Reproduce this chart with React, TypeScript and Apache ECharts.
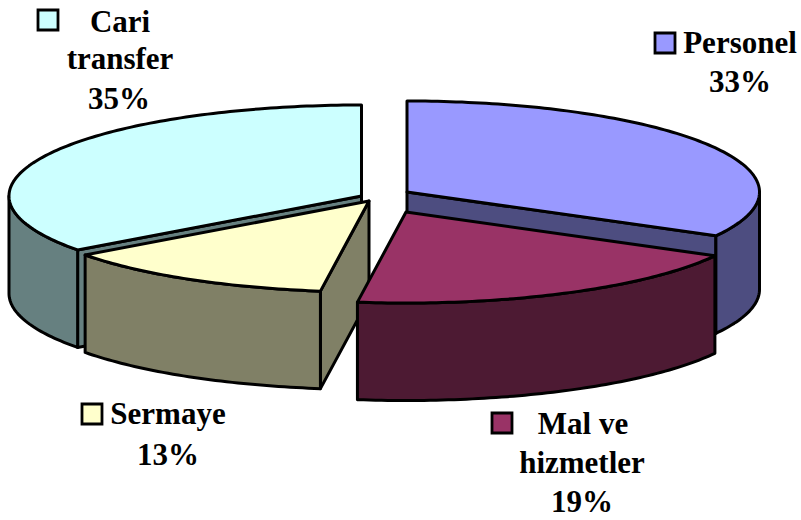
import React, { useEffect, useRef } from "react";
import * as echarts from "echarts";

const categories = ["Personel", "Mal ve hizmetler", "Sermaye", "Cari transfer"];
const shares = [33.0, 19.2, 12.7, 35.1];
const topColors = ["#9999FF", "#993366", "#FFFFCC", "#CCFFFF"];
const sideColors = ["#4D4D80", "#4D1A33", "#808066", "#668080"];
const apexX = [407, 406, 369, 361.5];
const apexY = [192, 212, 201, 196];
const drawOrder = [3, 0, 2, 1];

const labelLines = [["Personel", "33%"], ["Mal ve", "hizmetler", "19%"], ["Sermaye", "13%"], ["Cari", "transfer", "35%"]];
const labelX = [[740, 740], [583, 582, 582], [168, 168], [120, 120, 119]];
const labelBaseline = [[52, 91], [433, 472, 511], [423, 464], [31, 68, 108]];
const swatchX = [655, 492, 82, 38];
const swatchY = [33, 413, 404, 10];

const RX = 352.5;
const RY = 91;
const DEPTH = 97.5;
const STROKE = 3;
const total = shares.reduce((a, b) => a + b, 0);

function renderItem(params: any, api: any) {
  const i = drawOrder[params.dataIndex];
  let before = 0;
  for (let k = 0; k < i; k++) before += shares[k];
  const a0 = (before / total) * 360;
  const a1 = a0 + (api.value(0) / total) * 360;
  const cx = apexX[i];
  const cy = apexY[i];
  const pt = (deg: number, dy = 0): number[] => {
    const r = (deg * Math.PI) / 180;
    return [cx + RX * Math.sin(r), cy - RY * Math.cos(r) + dy];
  };
  const arc = (from: number, to: number, dy = 0) => {
    const out: number[][] = [];
    const n = Math.max(2, Math.ceil(Math.abs(to - from)));
    for (let s = 0; s <= n; s++) out.push(pt(from + ((to - from) * s) / n, dy));
    return out;
  };
  const face = (points: number[][], fill: string) => ({
    type: "polygon",
    shape: { points },
    style: { fill, stroke: "#000", lineWidth: STROKE, lineJoin: "round" },
  });
  const side = sideColors[i];
  const children: any[] = [];
  const s0 = Math.sin((a0 * Math.PI) / 180);
  const s1 = Math.sin((a1 * Math.PI) / 180);
  if (s0 < -1e-6) {
    children.push(face([[cx, cy], pt(a0), pt(a0, DEPTH), [cx, cy + DEPTH]], side));
  }
  if (s1 > 1e-6) {
    children.push(face([[cx, cy], pt(a1), pt(a1, DEPTH), [cx, cy + DEPTH]], side));
  }
  const w0 = Math.max(a0, 90);
  const w1 = Math.min(a1, 270);
  if (w1 > w0) {
    children.push(face([...arc(w0, w1), ...arc(w1, w0, DEPTH)], side));
  }
  children.push(face([[cx, cy], ...arc(a0, a1)], topColors[i]));
  return { type: "group", children };
}

function buildLabels() {
  const out: any[] = [];
  categories.forEach((_, i) => {
    out.push({
      type: "rect",
      shape: { x: swatchX[i], y: swatchY[i], width: 20, height: 20 },
      style: { fill: topColors[i], stroke: "#000", lineWidth: 2.8 },
    });
    labelLines[i].forEach((line, j) => {
      out.push({
        type: "text",
        x: labelX[i][j],
        y: labelBaseline[i][j] - 10,
        style: {
          text: line,
          fill: "#000",
          font: 'bold 31px "Liberation Serif"',
          textAlign: "center",
          textVerticalAlign: "middle",
        },
      });
    });
  });
  return out;
}

export default function App() {
  const ref = useRef<HTMLDivElement>(null);
  useEffect(() => {
    document.body.style.margin = "0";
    const chart = echarts.init(ref.current!, null, { renderer: "svg" });
    chart.setOption({
      animation: false,
      backgroundColor: "#fff",
      graphic: { elements: buildLabels() },
      series: [
        {
          type: "custom",
          coordinateSystem: "none",
          silent: true,
          renderItem,
          data: drawOrder.map((i) => ({ name: categories[i], value: shares[i] })),
        },
      ],
    });
    return () => chart.dispose();
  }, []);
  return <div ref={ref} style={{ width: 801, height: 520 }} />;
}
